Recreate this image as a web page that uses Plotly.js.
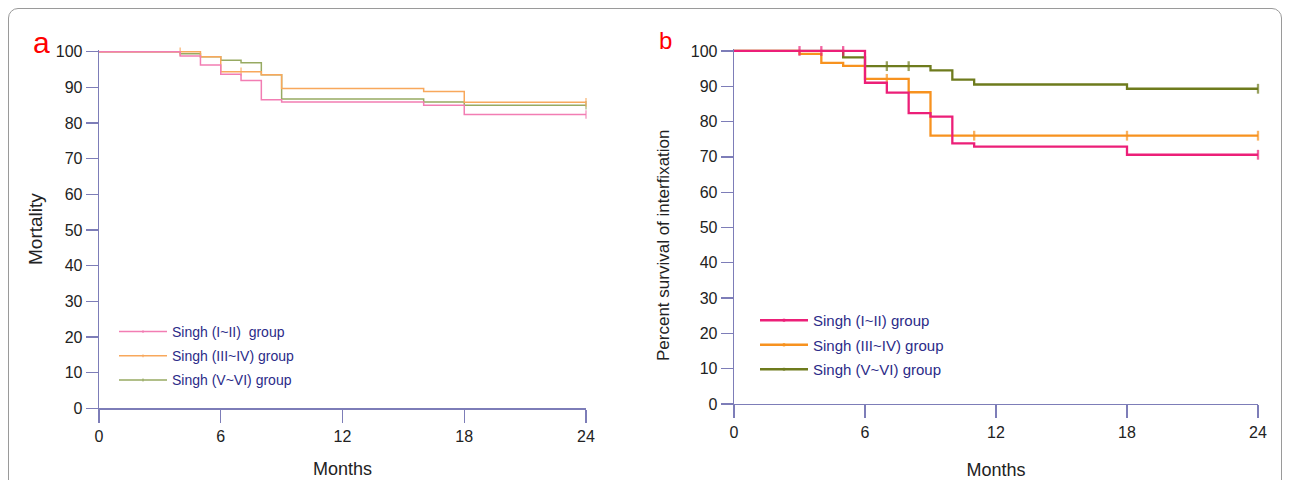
<!DOCTYPE html>
<html>
<head>
<meta charset="utf-8">
<script src="https://cdn.plot.ly/plotly-3.0.1.min.js"></script>
<style>
  html, body { margin: 0; padding: 0; background: #ffffff; }
  #wrap { position: relative; width: 1290px; height: 480px; overflow: hidden; }
  #chart { position: absolute; left: 0; top: 0; width: 1290px; height: 480px; }
  #frame { position: absolute; left: 8px; top: 8px; width: 1272px; height: 500px;
           border: 1px solid #9a9a9a; border-radius: 10px; pointer-events: none; }
</style>
</head>
<body>
<div id="wrap">
  <div id="chart"></div>
  <div id="frame"></div>
</div>
<script>
// ---------- DATA ----------
const groupNamesA = ['Singh (I~II)\u00a0\u00a0group', 'Singh (III~IV) group', 'Singh (V~VI) group'];
const groupNamesB = ['Singh (I~II) group', 'Singh (III~IV) group', 'Singh (V~VI) group'];
const xTicks = [0, 6, 12, 18, 24];
const yTicks = [0, 10, 20, 30, 40, 50, 60, 70, 80, 90, 100];

// Panel a (Mortality)
const a1Times = [0, 4, 5, 6, 7, 8, 9, 16, 18];
const a1Surv  = [100, 98.8, 96.3, 93.7, 91.9, 86.5, 85.9, 85.0, 82.4];
const a1Cens  = [24];

const a2Times = [0, 5, 6, 8, 9, 16, 18];
const a2Surv  = [100, 98.6, 94.4, 93.5, 89.7, 88.8, 85.8];
const a2Cens  = [4, 7, 24];

const a3Times = [0, 4, 5, 6, 7, 8, 9, 16, 18];
const a3Surv  = [100, 99.4, 98.6, 97.6, 96.9, 93.5, 86.7, 85.9, 85.0];
const a3Cens  = [24];

// Panel b (Percent survival of interfixation)
const b1Times = [0, 6, 7, 8, 9, 10, 11, 18];
const b1Surv  = [100, 91.0, 88.2, 82.4, 81.4, 73.8, 72.9, 70.6];
const b1Cens  = [3, 4, 5, 24];

const b2Times = [0, 3, 4, 5, 6, 8, 9];
const b2Surv  = [100, 99.2, 96.6, 95.8, 92.1, 88.3, 76.0];
const b2Cens  = [7, 11, 18, 24];

const b3Times = [0, 5, 6, 9, 10, 11, 18];
const b3Surv  = [100, 98.2, 95.7, 94.5, 91.9, 90.5, 89.3];
const b3Cens  = [7, 8, 24];

// ---------- BUILD ----------
function survAt(times, surv, t) {
  let v = surv[0];
  for (let i = 0; i < times.length; i++) { if (times[i] <= t) v = surv[i]; }
  return v;
}
function buildTrace(times, surv, cens, name, color, width, xa, ya, legend, msize, rank) {
  const all = Array.from(new Set(times.concat(cens))).sort((p, q) => p - q);
  const ys = all.map(t => survAt(times, surv, t));
  const sizes = all.map(t => cens.indexOf(t) >= 0 ? msize : 0);
  return {
    type: 'scatter', mode: 'lines+markers', x: all, y: ys, name: name,
    xaxis: xa, yaxis: ya, legend: legend, legendrank: rank, legendgroup: legend + '_' + rank,
    line: { shape: 'hv', color: color, width: width },
    marker: { symbol: 'line-ns', size: sizes, line: { color: color, width: width } },
    cliponaxis: false, hoverinfo: 'skip'
  };
}

const colA = ['#f27db3', '#f8a85c', '#97aa62'];
const colB = ['#ec1f78', '#f7921f', '#6e7b1d'];

const traces = [
  buildTrace(a3Times, a3Surv, a3Cens, groupNamesA[2], colA[2], 1.5, 'x', 'y', 'legend', 6, 3),
  buildTrace(a2Times, a2Surv, a2Cens, groupNamesA[1], colA[1], 1.5, 'x', 'y', 'legend', 6, 2),
  buildTrace(a1Times, a1Surv, a1Cens, groupNamesA[0], colA[0], 1.5, 'x', 'y', 'legend', 6, 1),
  buildTrace(b3Times, b3Surv, b3Cens, groupNamesB[2], colB[2], 2.3, 'x2', 'y2', 'legend2', 7, 3),
  buildTrace(b2Times, b2Surv, b2Cens, groupNamesB[1], colB[1], 2.3, 'x2', 'y2', 'legend2', 7, 2),
  buildTrace(b1Times, b1Surv, b1Cens, groupNamesB[0], colB[0], 2.3, 'x2', 'y2', 'legend2', 7, 1)
];

const axisColor = '#7d7db8';
const fam = 'Liberation Sans, Arial, sans-serif';
const tickFont = { family: fam, size: 16, color: '#222222' };

function xAxis(domain, anchor, standoff) {
  return {
    domain: domain, anchor: anchor, range: [0, 24], tickvals: xTicks, ticktext: xTicks.map(String),
    showgrid: false, zeroline: false, showline: true, linecolor: axisColor, linewidth: 1.3,
    ticks: 'outside', ticklen: 13, tickwidth: 1.3, tickcolor: axisColor,
    tickfont: tickFont, automargin: false,
    title: { text: 'Months', font: { family: fam, size: 18, color: '#222222' }, standoff: standoff }
  };
}
function yAxis(domain, anchor, title, tsize, standoff) {
  const ax = {
    domain: domain, anchor: anchor, range: [0, 100.5], tickvals: yTicks, ticktext: yTicks.map(String),
    showgrid: false, zeroline: false, showline: true, linecolor: axisColor, linewidth: 1.3,
    ticks: 'outside', ticklen: 12, tickwidth: 1.3, tickcolor: axisColor,
    tickfont: tickFont, automargin: false
  };
  if (title) ax.title = { text: title, font: { family: fam, size: tsize, color: '#222222' }, standoff: standoff };
  return ax;
}

const legendFont = { family: fam, size: 14, color: '#2b2b88' };

const layout = {
  width: 1290, height: 480,
  margin: { l: 0, r: 0, t: 0, b: 0 },
  paper_bgcolor: '#ffffff', plot_bgcolor: '#ffffff',
  showlegend: true,
  xaxis: xAxis([99 / 1290, 586 / 1290], 'y', 18),
  yaxis: yAxis([1 - 408.3 / 480, 1 - 49.9 / 480], 'x', 'Mortality', 19, 8),
  xaxis2: xAxis([734 / 1290, 1258 / 1290], 'y2', 24),
  yaxis2: yAxis([1 - 404 / 480, 1 - 49.2 / 480], 'x2', null, 17, 16),
  legend: {
    x: 114 / 1290, y: 1 - 316 / 480, xanchor: 'left', yanchor: 'top',
    bgcolor: 'rgba(0,0,0,0)', font: legendFont, traceorder: 'grouped',
    tracegroupgap: 3, itemwidth: 48
  },
  legend2: {
    x: 755 / 1290, y: 1 - 304 / 480, xanchor: 'left', yanchor: 'top',
    bgcolor: 'rgba(0,0,0,0)', font: Object.assign({}, legendFont, { size: 15 }),
    traceorder: 'grouped', tracegroupgap: 2, itemwidth: 48
  },
  annotations: [
    { text: 'a', xref: 'paper', yref: 'paper', x: 31 / 1290, y: 1 - 24 / 480, showarrow: false,
      font: { family: fam, size: 30, color: '#ff0000' } },
    { text: 'b', xref: 'paper', yref: 'paper', x: 665 / 1290, y: 1 - 25 / 480, showarrow: false,
      font: { family: fam, size: 24, color: '#ff0000' } },
    { text: 'Percent survival of interfixation', xref: 'paper', yref: 'paper',
      x: 664 / 1290, y: 1 - 245 / 480, showarrow: false, textangle: -90,
      font: { family: fam, size: 17, color: '#222222' } }
  ]
};

Plotly.newPlot('chart', traces, layout, { displayModeBar: false, staticPlot: true });
</script>
</body>
</html>
